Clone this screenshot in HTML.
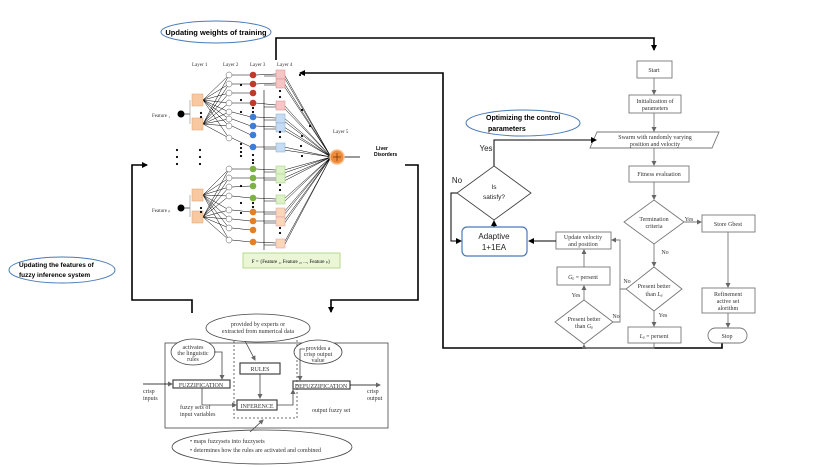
<!DOCTYPE html>
<html><head><meta charset="utf-8"><style>
html,body{margin:0;padding:0;background:#fff;}
svg{display:block;}
text{font-family:"Liberation Serif",serif;}
text.s,.s text{font-family:"Liberation Sans",sans-serif;}
</style></head><body>
<svg id="svg" width="830" height="467" viewBox="0 0 830 467" xmlns="http://www.w3.org/2000/svg">
<defs>
<marker id="a" markerWidth="6" markerHeight="6" refX="5" refY="3" orient="auto" markerUnits="userSpaceOnUse"><path d="M0,0 L6,3 L0,6z" fill="#000"/></marker>
<marker id="g" markerWidth="5" markerHeight="5" refX="4" refY="2.5" orient="auto" markerUnits="userSpaceOnUse"><path d="M0,0 L5,2.5 L0,5z" fill="#666"/></marker>
</defs>
<g id="net"></g>
<!-- ellipses -->
<ellipse cx="216" cy="32" rx="55" ry="11" fill="#fff" stroke="#4a7ab8"/>
<text x="216" y="35" class="s" font-size="7.5" font-weight="bold" text-anchor="middle">Updating weights of training</text>
<ellipse cx="523" cy="123" rx="57" ry="13" fill="#fff" stroke="#4a7ab8"/>
<text x="486" y="120" class="s" font-size="7" font-weight="bold">Optimizing the control</text>
<text x="488" y="131" class="s" font-size="7" font-weight="bold">parameters</text>
<ellipse cx="62" cy="270" rx="53" ry="13" fill="#fff" stroke="#4a7ab8"/>
<text x="19" y="267" class="s" font-size="6.5" font-weight="bold">Updating the features of</text>
<text x="19" y="277" class="s" font-size="6.5" font-weight="bold">fuzzy inference system</text>

<!-- feedback loops -->
<g fill="none" stroke="#000" stroke-width="1.6">
<polyline points="276,60 276,38 654,38 654,50" marker-end="url(#a)"/>
<polyline points="722,343 722,348 443,348 443,73 300,73" marker-end="url(#a)"/>
<polyline points="192,313 192,300 132,300 132,165 147,165" marker-end="url(#a)"/>
<polyline points="405,165 418,165 418,300 331,300 331,312" marker-end="url(#a)"/>
</g>

<!-- fuzzy system -->
<g stroke="#444" fill="none" stroke-width="0.8">
<rect x="165" y="343" width="223" height="85"/>
<rect x="234" y="335" width="63" height="83" stroke-dasharray="2,2"/>
<rect x="240" y="363" width="40" height="11" stroke-width="1.2"/>
<rect x="173" y="380" width="57" height="8" stroke-width="1.2"/>
<rect x="237" y="400" width="40" height="10" stroke-width="1.2"/>
<rect x="293" y="381" width="57" height="8" stroke-width="1.2"/>
<ellipse cx="258" cy="328" rx="52" ry="14" fill="#fff"/>
<ellipse cx="193" cy="352" rx="22" ry="13" fill="#fff"/>
<ellipse cx="318" cy="352" rx="24" ry="12" fill="#fff"/>
<ellipse cx="262" cy="447" rx="90" ry="17" fill="#fff"/>
<line x1="245" y1="341" x2="255" y2="360" marker-end="url(#g)"/>
<line x1="260" y1="374" x2="260" y2="398" marker-end="url(#g)"/>
<polyline points="214,352 222,352 222,379" marker-end="url(#g)"/>
<polyline points="202,388 202,405 236,405" marker-end="url(#g)"/>
<polyline points="277,405 293,405 293,390" marker-end="url(#g)"/>
<polyline points="305,349 300,349 300,380" marker-end="url(#g)"/>
<line x1="143" y1="384" x2="172" y2="384" stroke="#000" marker-end="url(#g)"/>
<line x1="350" y1="385" x2="380" y2="385" stroke="#000" marker-end="url(#g)"/>
<line x1="250" y1="432" x2="263" y2="420" marker-end="url(#g)"/>
</g>
<g font-size="6" fill="#333">
<text x="258" y="326" text-anchor="middle">provided by experts or</text>
<text x="258" y="333" text-anchor="middle">extracted from numerical data</text>
<text x="193" y="349" text-anchor="middle">activates</text>
<text x="193" y="355" text-anchor="middle">the linguistic</text>
<text x="193" y="361" text-anchor="middle">rules</text>
<text x="318" y="350" text-anchor="middle">provides a</text>
<text x="318" y="356" text-anchor="middle">crisp output</text>
<text x="318" y="362" text-anchor="middle">value</text>
<text x="260" y="371" text-anchor="middle">RULES</text>
<text x="201" y="387" text-anchor="middle">FUZZIFICATION</text>
<text x="257" y="408" text-anchor="middle">INFERENCE</text>
<text x="321" y="388" text-anchor="middle">DEFUZZIFICATION</text>
<text x="143" y="393">crisp</text><text x="143" y="400">inputs</text>
<text x="367" y="393">crisp</text><text x="367" y="400">output</text>
<text x="180" y="409">fuzzy sets of</text><text x="180" y="416">input variables</text>
<text x="312" y="412">output fuzzy set</text>
<text x="190" y="443">•  maps  fuzzysets into fuzzysets</text>
<text x="190" y="452">•  determines how the rules are activated and combined</text>
</g>

<!-- network static -->
<g font-size="5" fill="#333">
<text x="192" y="66">Layer 1</text><text x="223" y="66">Layer 2</text><text x="250" y="66">Layer 3</text><text x="277" y="66">Layer 4</text>
<text x="333" y="133">Layer 5</text>
<text x="152" y="117">Feature ₁</text><text x="152" y="212">Feature ₚ</text>
</g>
<text x="376" y="150" class="s" font-size="5" font-weight="bold">Liver</text>
<text x="374" y="156" class="s" font-size="5" font-weight="bold">Disorders</text>
<rect x="243" y="253" width="97" height="15" fill="#eaf6d6" stroke="#b7d88c"/>
<text x="291" y="263" font-size="5" text-anchor="middle">F = {Feature ₁, Feature ₂, ..., Feature ₚ}</text>

<!-- flowchart -->
<g stroke="#777" fill="#fff" stroke-width="0.9">
<rect x="637" y="61" width="35" height="17"/>
<rect x="629" y="95" width="52" height="18"/>
<polygon points="597,132 719,132 712,148 590,148"/>
<rect x="629" y="166" width="60" height="16"/>
<polygon points="654,200 684,222 654,244 624,222"/>
<rect x="702" y="215" width="53" height="17"/>
<polygon points="654,267 682,289 654,311 626,289"/>
<rect x="628" y="327" width="53" height="16"/>
<rect x="702" y="288" width="53" height="25"/>
<rect x="708" y="328" width="39" height="15" rx="7.5"/>
<polygon points="584,300 613,322 584,344 555,322"/>
<rect x="557" y="267" width="53" height="18"/>
<rect x="556" y="232" width="55" height="17"/>
<polygon points="494,166 531,193 494,220 457,193" stroke="#444"/>
</g>
<rect x="462" y="227" width="65" height="29" rx="5" fill="#fff" stroke="#4a7ab8" stroke-width="1.2"/>
<g stroke="#777" fill="none" stroke-width="0.9">
<line x1="654" y1="78" x2="654" y2="94" marker-end="url(#g)"/>
<line x1="654" y1="113" x2="654" y2="131" marker-end="url(#g)"/>
<line x1="654" y1="148" x2="654" y2="165" marker-end="url(#g)"/>
<line x1="654" y1="182" x2="654" y2="199" marker-end="url(#g)"/>
<line x1="684" y1="222" x2="701" y2="222" marker-end="url(#g)"/>
<line x1="654" y1="244" x2="654" y2="266" marker-end="url(#g)"/>
<line x1="654" y1="311" x2="654" y2="326" marker-end="url(#g)"/>
<line x1="728" y1="232" x2="728" y2="287" marker-end="url(#g)"/>
<line x1="728" y1="313" x2="728" y2="327" marker-end="url(#g)"/>
<polyline points="626,289 620,289 620,240 612,240" marker-end="url(#g)"/>
<polyline points="654,343 654,348 584,348 584,345" marker-end="url(#g)"/>
<polyline points="613,322 620,322 620,289"/>
<line x1="584" y1="300" x2="584" y2="286" marker-end="url(#g)"/>
<line x1="584" y1="267" x2="584" y2="250" marker-end="url(#g)"/>
</g>
<g stroke="#000" fill="none" stroke-width="1">
<line x1="556" y1="241" x2="529" y2="241" marker-end="url(#a)"/>
<line x1="494" y1="227" x2="494" y2="221" marker-end="url(#a)"/>
<polyline points="457,193 451,193 451,241 461,241" marker-end="url(#a)"/>
<polyline points="494,166 494,140 596,140" marker-end="url(#a)"/>
</g>
<g font-size="6" fill="#333" text-anchor="middle">
<text x="654" y="72">Start</text>
<text x="655" y="103">Initialization of</text><text x="655" y="110">parameters</text>
<text x="655" y="139">Swarm with randomly varying</text><text x="655" y="146">position and velocity</text>
<text x="659" y="176">Fitness evaluation</text>
<text x="654" y="221">Termination</text><text x="654" y="228">criteria</text>
<text x="728" y="226">Store Gbest</text>
<text x="654" y="288">Present better</text><text x="654" y="296">than <tspan font-style="italic">L</tspan>ᵦ</text>
<text x="654" y="338"><tspan font-style="italic">L</tspan>ᵦ = persent</text>
<text x="728" y="296">Refinement</text><text x="728" y="303">active set</text><text x="728" y="310">alorithm</text>
<text x="727" y="338">Stop</text>
<text x="584" y="321">Present better</text><text x="584" y="328">than <tspan font-style="italic">G</tspan>ᵦ</text>
<text x="583" y="279"><tspan font-style="italic">G</tspan>ᵦ = persent</text>
<text x="583" y="239">Update velocity</text><text x="583" y="246">and position</text>
<text x="689" y="221">Yes</text><text x="665" y="254">No</text><text x="663" y="317">Yes</text>
<text x="627" y="283">No</text><text x="576" y="297">Yes</text><text x="616" y="318">No</text>
</g>
<g class="s" font-size="6.5" fill="#222" text-anchor="middle">
<text x="494" y="189">Is</text><text x="494" y="199">satisfy?</text>
</g>
<g class="s" font-size="8" fill="#222" text-anchor="middle">
<text x="494" y="239">Adaptive</text><text x="494" y="250">1+1EA</text>
<text x="486" y="151">Yes</text><text x="457" y="183">No</text>
</g>
</svg>
<script>
var N='http://www.w3.org/2000/svg',g=document.getElementById('net');
function el(t,a){var e=document.createElementNS(N,t);for(var k in a)e.setAttribute(k,a[k]);g.appendChild(e);return e;}
function L(x1,y1,x2,y2,w,c){el('line',{x1:x1,y1:y1,x2:x2,y2:y2,stroke:c||'#000','stroke-width':w||0.5});}
var l2=[[75,84,93,103,112,119,126,138],[169,178,187,196,210,219,228,240]];
var m=[[[198,100],[198,124]],[[198,195],[198,217]]];
var fy=[114,208];
var l3=[[75,84,93,103],[117,126,135,147],[169,178,186,198],[212,221,230,242]];
var cols=['#c0392b','#3b7dd8','#7cb342','#e67e22'];
var l4=[[74,83,105],[118,127,147],[170,178,199],[212,221,243]];
var sq=['#f6c6c6','#c6dcf6','#dcf2c6','#f9d7b8'];
var sqs=['#d88','#8ab','#9c7','#d9a'];
for(var p=0;p<2;p++){for(var i=0;i<2;i++)for(var j=0;j<8;j++)L(m[p][i][0]+5,m[p][i][1],229,l2[p][j],0.5);
 L(181,fy[p],190,fy[p],0.6);L(190,m[p][0][1],190,m[p][1][1],0.6,'#888');
 el('circle',{cx:181,cy:fy[p],r:3.5,fill:'#000'});
 for(var i=0;i<2;i++)el('rect',{x:192,y:m[p][i][1]-6,width:11,height:12,fill:'#f8c9a0',stroke:'#e0a070','stroke-width':0.5});
 for(var j=0;j<4;j++){L(232,l2[p][j],251,l3[p*2][j],0.5);L(232,l2[p][j+4],251,l3[p*2+1][j],0.5);}
 for(var j=0;j<8;j++)el('circle',{cx:229,cy:l2[p][j],r:3,fill:'#fff',stroke:'#555','stroke-width':0.5});
}
L(264,90,264,250,0.6);
for(var q=0;q<4;q++){
 for(var j=0;j<3;j++){var y3=l3[q][j===2?3:j];L(256,y3,276,l4[q][j],0.6);L(264,l4[q][j]+2,276,l4[q][j]+2,0.5);
  L(284,l4[q][j],331,157,0.5);L(284,l4[q][j]+3,331,157,0.5);}
 for(var j=0;j<4;j++)el('circle',{cx:253,cy:l3[q][j],r:3.3,fill:cols[q]});
 for(var j=0;j<3;j++)el('rect',{x:276,y:l4[q][j]-4,width:9,height:9,fill:sq[q],stroke:sqs[q],'stroke-width':0.5});
}
L(344,157,360,157,0.8);
el('circle',{cx:337,cy:157,r:7,fill:'#ef8a3a',stroke:'#f6c08a','stroke-width':1.5});
L(333,157,341,157,0.8,'#7a3a00');L(337,153,337,161,0.8,'#7a3a00');
var dots=[[241,85],[241,100],[241,112],[300,75],[253,108],[253,112],[253,155],[253,160],[280,91],[280,97],[280,132],[280,137],[280,185],[280,190],[280,228],[280,233],[302,110],[302,136],[302,156],[241,186],[241,203],[241,213],[253,203],[253,207],[253,163],[201,113],[201,117],[201,208],[201,212],
[177,150],[177,157],[177,164],[200,150],[200,157],[200,164],[241,144],[241,148],[241,152],[241,156],[310,126],[301,146]];
dots.forEach(function(d){el('circle',{cx:d[0],cy:d[1],r:1.1,fill:'#000'});});
</script>
</body></html>
